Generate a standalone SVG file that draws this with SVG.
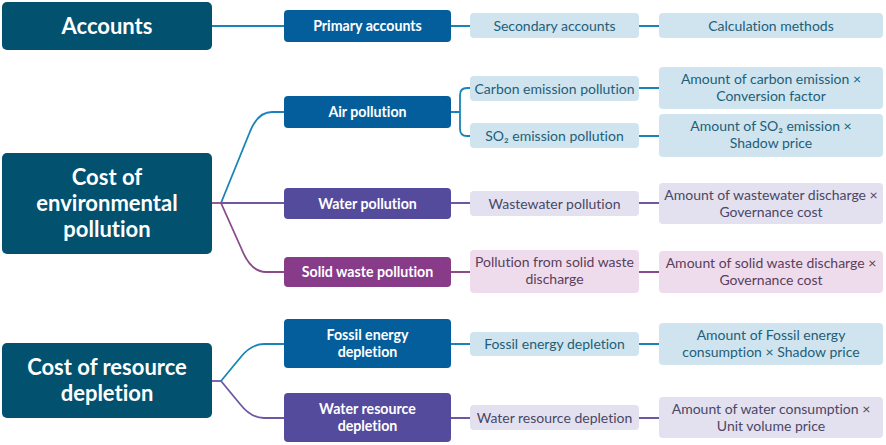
<svg xmlns="http://www.w3.org/2000/svg" width="886" height="445" viewBox="0 0 886 445">
<style>
text{font-family:Lato,"Open Sans","Liberation Sans",sans-serif;text-anchor:middle;font-variant-ligatures:none;font-feature-settings:"liga" 0}
.root{fill:#02516f}
.root-t{fill:#fff;font-size:22px;font-weight:bold}
.pb{fill:#035e9b}.pp{fill:#554b9c}.pm{fill:#883b88}
.pt{fill:#fff;font-size:14.2px;font-weight:bold}
.lb{fill:#cfe4ef}.lp{fill:#e3e1ef}.lm{fill:#eedcec}
.tb{fill:#1f5e78;font-size:14px}.tp{fill:#4a4766;font-size:14px}.tm{fill:#5a3e5c;font-size:14px}
.cb{stroke:#1a84b8}.cp{stroke:#7156a4}.cm{stroke:#8a4a8c}
#connectors path{fill:none;stroke-width:1.8}
</style>
<rect width="886" height="445" fill="#fff"/>
<g id="connectors">
<path class="cb" d="M212,26H284M451,26H470M639,26H659"/>
<path class="cb" d="M221,203L249,134Q257,112 272,112H284"/>
<path class="cb" d="M451,112H460M470,88H467Q460,88 460,95V129Q460,136 467,136H470M639,88H659M639,136H659"/>
<path class="cm" d="M212,203H221"/>
<path class="cp" d="M221,203H284M451,203H470M639,203H659"/>
<path class="cm" d="M221,203L242,250Q251,272 266,272H284M451,272H470M639,272H659"/>
<path class="cp" d="M212,381H221"/>
<path class="cb" d="M221,381L240,358Q251,344 264,344H284M451,344H470M639,344H659"/>
<path class="cp" d="M221,381L240,404Q251,418 264,418H284M451,418H470M639,418H659"/>
</g>
<g id="accounts"><rect class="root" x="2" y="2" width="210" height="48" rx="5"/><text class="root-t" x="107" y="33.5">Accounts</text></g>
<g id="primary-accounts"><rect class="pb" x="284" y="10" width="167" height="32" rx="4"/><text class="pt" x="367.5" y="31">Primary accounts</text></g>
<g id="secondary-accounts"><rect class="lb" x="470" y="13" width="169" height="25" rx="4"/><text class="tb" x="554.5" y="30.5">Secondary accounts</text></g>
<g id="calculation-methods"><rect class="lb" x="659" y="13" width="224" height="25" rx="4"/><text class="tb" x="771" y="30.5">Calculation methods</text></g>

<g id="cost-env"><rect class="root" x="2" y="153" width="210" height="101" rx="5"/><text class="root-t"><tspan x="107" y="185">Cost of</tspan><tspan x="107" y="211">environmental</tspan><tspan x="107" y="237">pollution</tspan></text></g>
<g id="air-pollution"><rect class="pb" x="284" y="96" width="167" height="32" rx="4"/><text class="pt" x="367.5" y="117">Air pollution</text></g>
<g id="carbon"><rect class="lb" x="470" y="76" width="169" height="25" rx="4"/><text class="tb" x="554.5" y="93.5">Carbon emission pollution</text></g>
<g id="carbon-calc"><rect class="lb" x="659" y="67" width="224" height="42" rx="4"/><text class="tb"><tspan x="771" y="84">Amount of carbon emission ×</tspan><tspan x="771" y="101">Conversion factor</tspan></text></g>
<g id="so2"><rect class="lb" x="470" y="123" width="169" height="25" rx="4"/><text class="tb" x="554.5" y="140.5">SO₂ emission pollution</text></g>
<g id="so2-calc"><rect class="lb" x="659" y="114" width="224" height="43" rx="4"/><text class="tb"><tspan x="771" y="131">Amount of SO₂ emission ×</tspan><tspan x="771" y="148">Shadow price</tspan></text></g>
<g id="water-pollution"><rect class="pp" x="284" y="188" width="167" height="31" rx="4"/><text class="pt" x="367.5" y="208.5">Water pollution</text></g>
<g id="wastewater"><rect class="lp" x="470" y="191" width="169" height="25" rx="4"/><text class="tp" x="554.5" y="208.5">Wastewater pollution</text></g>
<g id="wastewater-calc"><rect class="lp" x="659" y="183" width="224" height="41" rx="4"/><text class="tp"><tspan x="771" y="199.5">Amount of wastewater discharge ×</tspan><tspan x="771" y="216.5">Governance cost</tspan></text></g>
<g id="solid-waste"><rect class="pm" x="284" y="257" width="167" height="30" rx="4"/><text class="pt" x="367.5" y="277">Solid waste pollution</text></g>
<g id="solid-discharge"><rect class="lm" x="470" y="250" width="169" height="43" rx="4"/><text class="tm"><tspan x="554.5" y="267">Pollution from solid waste</tspan><tspan x="554.5" y="284">discharge</tspan></text></g>
<g id="solid-calc"><rect class="lm" x="659" y="251" width="224" height="42" rx="4"/><text class="tm"><tspan x="771" y="268">Amount of solid waste discharge ×</tspan><tspan x="771" y="285">Governance cost</tspan></text></g>

<g id="cost-res"><rect class="root" x="2" y="343" width="210" height="75" rx="5"/><text class="root-t"><tspan x="107" y="375">Cost of resource</tspan><tspan x="107" y="401">depletion</tspan></text></g>
<g id="fossil"><rect class="pb" x="284" y="319" width="167" height="49" rx="4"/><text class="pt"><tspan x="367.5" y="340">Fossil energy</tspan><tspan x="367.5" y="357">depletion</tspan></text></g>
<g id="fossil-sec"><rect class="lb" x="470" y="332" width="169" height="24" rx="4"/><text class="tb" x="554.5" y="349">Fossil energy depletion</text></g>
<g id="fossil-calc"><rect class="lb" x="659" y="323" width="224" height="42" rx="4"/><text class="tb"><tspan x="771" y="340">Amount of Fossil energy</tspan><tspan x="771" y="357">consumption × Shadow price</tspan></text></g>
<g id="water-res"><rect class="pp" x="284" y="393" width="167" height="49" rx="4"/><text class="pt"><tspan x="367.5" y="414">Water resource</tspan><tspan x="367.5" y="431">depletion</tspan></text></g>
<g id="water-res-sec"><rect class="lp" x="470" y="405" width="169" height="25" rx="4"/><text class="tp" x="554.5" y="422.5">Water resource depletion</text></g>
<g id="water-res-calc"><rect class="lp" x="659" y="397" width="224" height="41" rx="4"/><text class="tp"><tspan x="771" y="413.5">Amount of water consumption ×</tspan><tspan x="771" y="430.5">Unit volume price</tspan></text></g>
</svg>
